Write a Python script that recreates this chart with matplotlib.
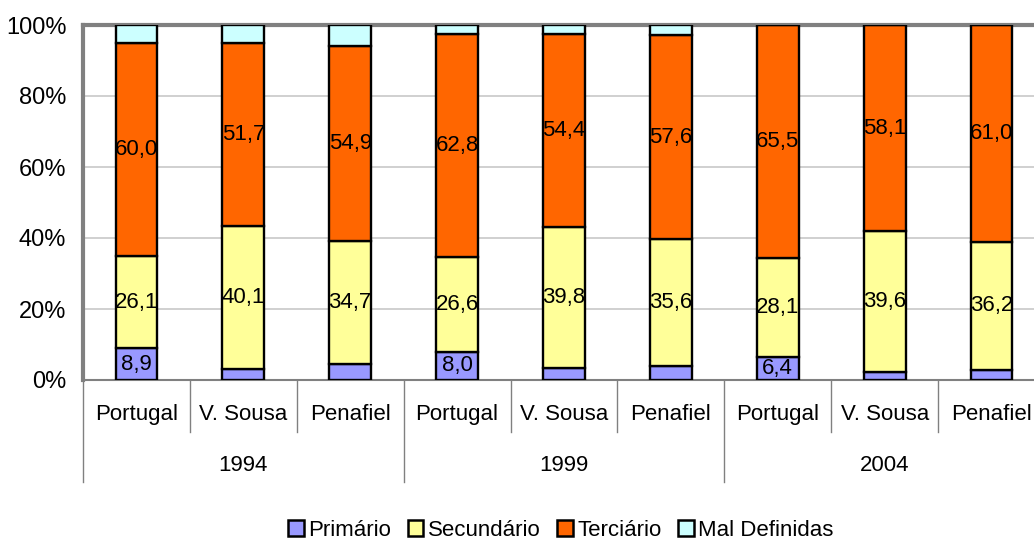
import matplotlib.pyplot as plt
import matplotlib.transforms as mtransforms
from matplotlib.patches import Patch

plt.rcParams['font.family'] = ['Liberation Sans', 'DejaVu Sans']

# Data (percent of employment by sector)
YEARS = ['1994', '1999', '2004']
PLACES = ['Portugal', 'V. Sousa', 'Penafiel']
primario = [8.9, 3.2, 4.4, 8.0, 3.3, 4.0, 6.4, 2.3, 2.8]
secundario = [26.1, 40.1, 34.7, 26.6, 39.8, 35.6, 28.1, 39.6, 36.2]
terciario = [60.0, 51.7, 54.9, 62.8, 54.4, 57.6, 65.5, 58.1, 61.0]
mal_definidas = [5.0, 5.0, 6.0, 2.6, 2.5, 2.8, 0.0, 0.0, 0.0]

SERIES = [
    ('Primário', primario, '#9999FF'),
    ('Secundário', secundario, '#FFFF99'),
    ('Terciário', terciario, '#FF6600'),
    ('Mal Definidas', mal_definidas, '#CCFFFF'),
]

FS = 16

W, H = 1034, 543
fig = plt.figure(figsize=(W / 100, H / 100), dpi=100)
# plot area runs slightly off the right edge, like the original screenshot
ax = fig.add_axes([83 / W, (H - 380) / H, 962 / W, 355 / H])

n = len(primario)
x = list(range(n))
bottom = [0.0] * n
for name, vals, color in SERIES:
    ax.bar(x, vals, width=0.39, bottom=bottom, color=color,
           edgecolor='black', linewidth=1.7, zorder=3)
    for i, v in enumerate(vals):
        show = name in ('Secundário', 'Terciário') or (name == 'Primário' and v > 5)
        if show:
            ax.text(i, bottom[i] + v / 2, f'{v:.1f}'.replace('.', ','),
                    ha='center', va='center', fontsize=FS, zorder=4)
    bottom = [b + v for b, v in zip(bottom, vals)]

ax.set_xlim(-0.5, n - 0.5)
ax.set_ylim(0, 100)
ax.set_yticks([0, 20, 40, 60, 80, 100])
ax.set_yticklabels([f'{t}%' for t in [0, 20, 40, 60, 80, 100]], fontsize=17)
ax.tick_params(axis='y', length=0, pad=12)
ax.set_xticks([])
ax.yaxis.grid(True, color='#C8C8C8', linewidth=1.2, zorder=0)
ax.set_axisbelow(True)

for side in ['left', 'top']:
    ax.spines[side].set_color('#808080')
    ax.spines[side].set_linewidth(3)
ax.spines['bottom'].set_color('#808080')
ax.spines['bottom'].set_linewidth(1.5)
ax.spines['right'].set_visible(False)

# two-level category axis
trans = mtransforms.blended_transform_factory(ax.transData, ax.transAxes)
for i in range(n):
    ax.text(i, -0.098, PLACES[i % 3], ha='center', va='center',
            fontsize=FS, transform=trans)
for g, yr in enumerate(YEARS):
    ax.text(g * 3 + 1, -0.242, yr, ha='center', va='center',
            fontsize=FS, transform=trans)
for k in range(n + 1):
    xs = k - 0.5
    y_end = -0.287 if k % 3 == 0 else -0.146
    ax.plot([xs, xs], [0, y_end], color='#808080', linewidth=1,
            transform=trans, clip_on=False)

handles = [Patch(facecolor=c, edgecolor='black', linewidth=1.8, label=nm)
           for nm, _, c in SERIES]
fig.legend(handles=handles, loc='center', bbox_to_anchor=(561 / W, 1 - 530 / H),
           ncol=4, frameon=False, fontsize=FS, handlelength=0.7,
           handleheight=0.7, handletextpad=0.2, columnspacing=0.75)

fig.savefig('out.png', dpi=100)
